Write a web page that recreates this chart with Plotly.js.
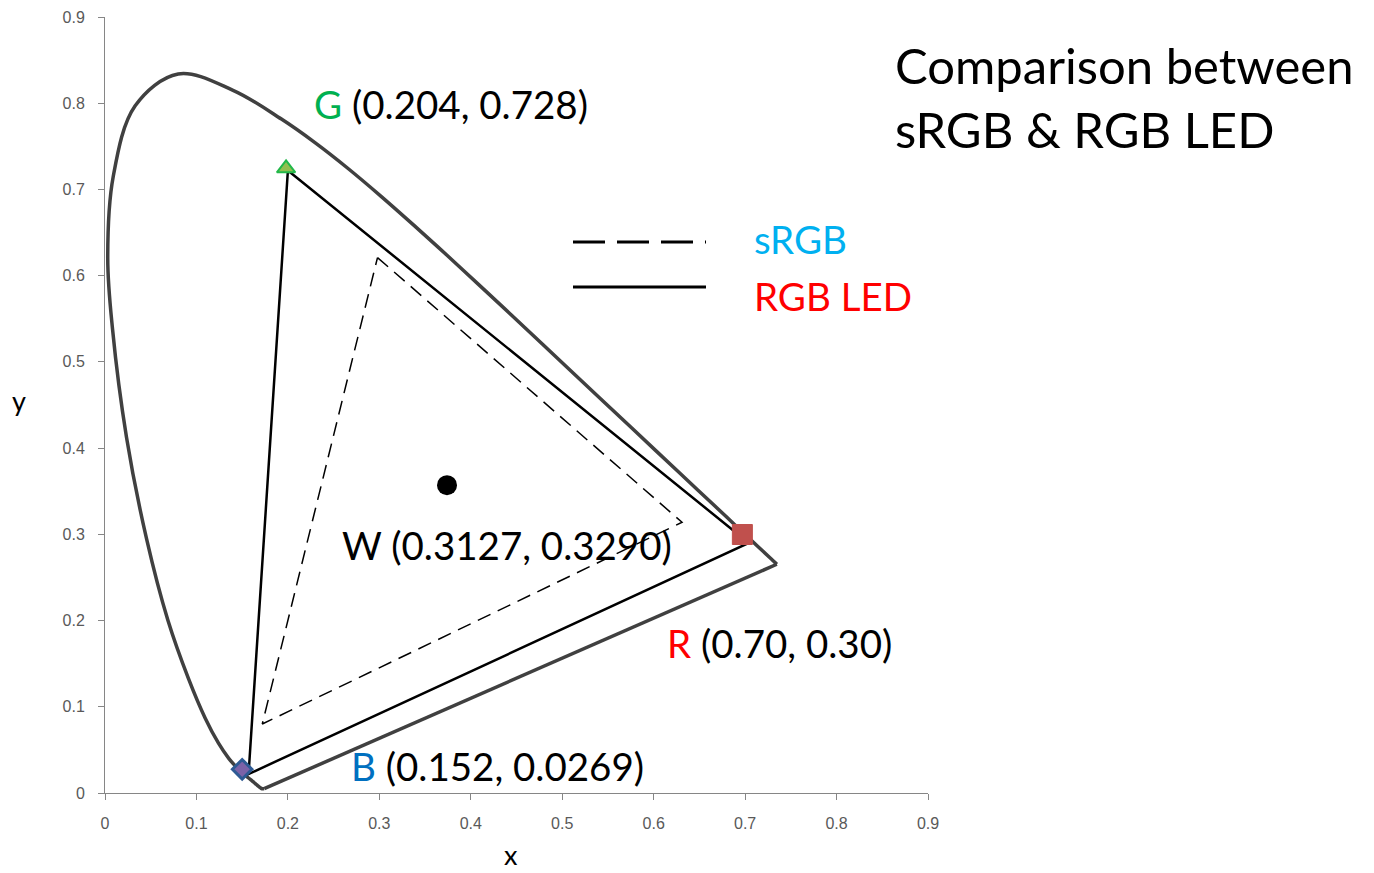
<!DOCTYPE html>
<html>
<head>
<meta charset="utf-8">
<script src="https://cdn.plot.ly/plotly-3.0.1.min.js"></script>
<style>html,body{margin:0;padding:0;background:#fff;}#chart{width:1374px;height:873px;}</style>
</head>
<body>
<div id="chart"></div>
<script>
// Spectral locus (380 nm -> 700 nm), as drawn in the picture
const locusX = [0.1741,0.1740,0.1738,0.1736,0.1733,0.1730,0.1726,0.1721,0.1714,0.1703,0.1689,0.1669,0.1644,0.1611,0.1566,0.1510,0.1440,0.1355,0.1241,0.1096,0.0913,0.0687,0.0454,0.0235,0.0082,0.0030,0.0090,0.0330,0.0800,0.1400,0.1929,0.2296,0.2658,0.3016,0.3373,0.3731,0.4087,0.4441,0.4788,0.5125,0.5448,0.5752,0.6029,0.6270,0.6482,0.6658,0.6801,0.6915,0.7006,0.7079,0.7190,0.7260,0.7300,0.7334,0.7347];
const locusY = [0.0050,0.0050,0.0049,0.0049,0.0048,0.0048,0.0048,0.0048,0.0051,0.0058,0.0069,0.0086,0.0109,0.0138,0.0177,0.0227,0.0297,0.0399,0.0578,0.0868,0.1327,0.2007,0.2950,0.4127,0.5384,0.6200,0.7150,0.7970,0.8340,0.8150,0.7816,0.7543,0.7243,0.6923,0.6589,0.6245,0.5896,0.5547,0.5202,0.4866,0.4544,0.4242,0.3965,0.3725,0.3514,0.3340,0.3197,0.3083,0.2993,0.2920,0.2809,0.2740,0.2700,0.2666,0.2653];

// Line of purples (closing segment 700 nm -> 380 nm)
const purpleX = [0.7347, 0.1741];
const purpleY = [0.2653, 0.0050];

// RGB LED gamut triangle (solid) as drawn
const ledX = [0.200, 0.704, 0.157, 0.200];
const ledY = [0.722, 0.290, 0.022, 0.722];

// sRGB gamut triangle (dashed) as drawn
const srgbX = [0.298, 0.631, 0.172, 0.298];
const srgbY = [0.621, 0.314, 0.080, 0.621];

// Primary / white point markers as drawn
const gX = [0.198], gY = [0.7245];
const rX = [0.697], rY = [0.2998];
const bX = [0.150], bY = [0.0275];
const wX = [0.374], wY = [0.357];

// Text
const titleText = 'Comparison between<br>sRGB & RGB LED';
const gLabel = ['G', ' (0.204, 0.728)'];
const rLabel = ['R', ' (0.70, 0.30)'];
const bLabel = ['B', ' (0.152, 0.0269)'];
const wLabel = 'W (0.3127, 0.3290)';
const legendNames = ['sRGB', 'RGB LED'];

// layout geometry (pixels)
const W = 1374, H = 873;
const M = {l: 105, r: 446, t: 17, b: 80};
const PW = W - M.l - M.r, PH = H - M.t - M.b;
const px = x => (x - M.l) / PW;
const py = y => (H - M.b - y) / PH;

const FONT = 'Lato, "Open Sans", sans-serif';
const LBL = 38.5;

const traces = [
  {x: locusX, y: locusY, mode: 'lines', line: {color: '#404040', width: 3.5, shape: 'spline', smoothing: 1}, hoverinfo: 'skip'},
  {x: purpleX, y: purpleY, mode: 'lines', line: {color: '#404040', width: 3.5}, hoverinfo: 'skip'},
  {x: srgbX, y: srgbY, mode: 'lines', line: {color: '#000', width: 1.5, dash: '14px,8px'}, hoverinfo: 'skip'},
  {x: ledX, y: ledY, mode: 'lines', line: {color: '#000', width: 2.5}, hoverinfo: 'skip'},
  {x: gX, y: gY, mode: 'markers', marker: {symbol: 'triangle-up', size: 16, color: '#92BF50', line: {color: '#22B84A', width: 2}}},
  {x: rX, y: rY, mode: 'markers', marker: {symbol: 'square', size: 20, color: '#C0504D', line: {color: '#C0504D', width: 1}}},
  {x: bX, y: bY, mode: 'markers', marker: {symbol: 'diamond', size: 15, color: '#7B62A8', line: {color: '#2E5A94', width: 3}}},
  {x: wX, y: wY, mode: 'markers', marker: {symbol: 'circle', size: 20, color: '#000'}}
];

const ann = (x, y, text, size, extra) => Object.assign({
  xref: 'paper', yref: 'paper', x: px(x), y: py(y), text: text,
  showarrow: false, xanchor: 'left', yanchor: 'middle', align: 'left',
  font: {family: FONT, size: size, color: '#000'}
}, extra || {});

const layout = {
  width: W, height: H,
  margin: M,
  paper_bgcolor: '#fff', plot_bgcolor: '#fff',
  showlegend: false,
  xaxis: {range: [0, 0.9], dtick: 0.1, tick0: 0, showgrid: false, zeroline: false,
          showline: true, linecolor: '#868686', linewidth: 1, ticks: 'outside', ticklen: 6,
          tickcolor: '#868686', ticklabelstandoff: 10,
          tickfont: {family: '"Liberation Sans", Arial, sans-serif', size: 16, color: '#595959'}},
  yaxis: {range: [0, 0.9], dtick: 0.1, tick0: 0, showgrid: false, zeroline: false,
          showline: true, linecolor: '#868686', linewidth: 1, ticks: 'outside', ticklen: 6,
          tickcolor: '#868686', ticklabelstandoff: 10,
          tickfont: {family: '"Liberation Sans", Arial, sans-serif', size: 16, color: '#595959'}},
  shapes: [
    {type: 'line', xref: 'paper', yref: 'paper', x0: px(573), x1: px(706), y0: py(242), y1: py(242),
     line: {color: '#000', width: 3, dash: '32px,12px'}},
    {type: 'line', xref: 'paper', yref: 'paper', x0: px(573), x1: px(706), y0: py(287), y1: py(287),
     line: {color: '#000', width: 3}}
  ],
  annotations: [
    ann(893, 97, titleText, 49),
    ann(312, 104, '<span style="color:#00B050">' + gLabel[0] + '</span>' + gLabel[1], LBL),
    ann(665, 643, '<span style="color:#FF0000">' + rLabel[0] + '</span>' + rLabel[1], LBL),
    ann(349, 766, '<span style="color:#0070C0">' + bLabel[0] + '</span>' + bLabel[1], LBL),
    ann(340, 545, wLabel, LBL),
    ann(752, 239, legendNames[0], LBL, {font: {family: FONT, size: LBL, color: '#00B0F0'}}),
    ann(752, 296, legendNames[1], LBL, {font: {family: FONT, size: LBL, color: '#FF0000'}}),
    ann(502, 873, 'x', 27, {yanchor: 'bottom'}),
    ann(10, 400, 'y', 27)
  ]
};

Plotly.newPlot('chart', traces, layout, {displayModeBar: false, staticPlot: true});
</script>
</body>
</html>
